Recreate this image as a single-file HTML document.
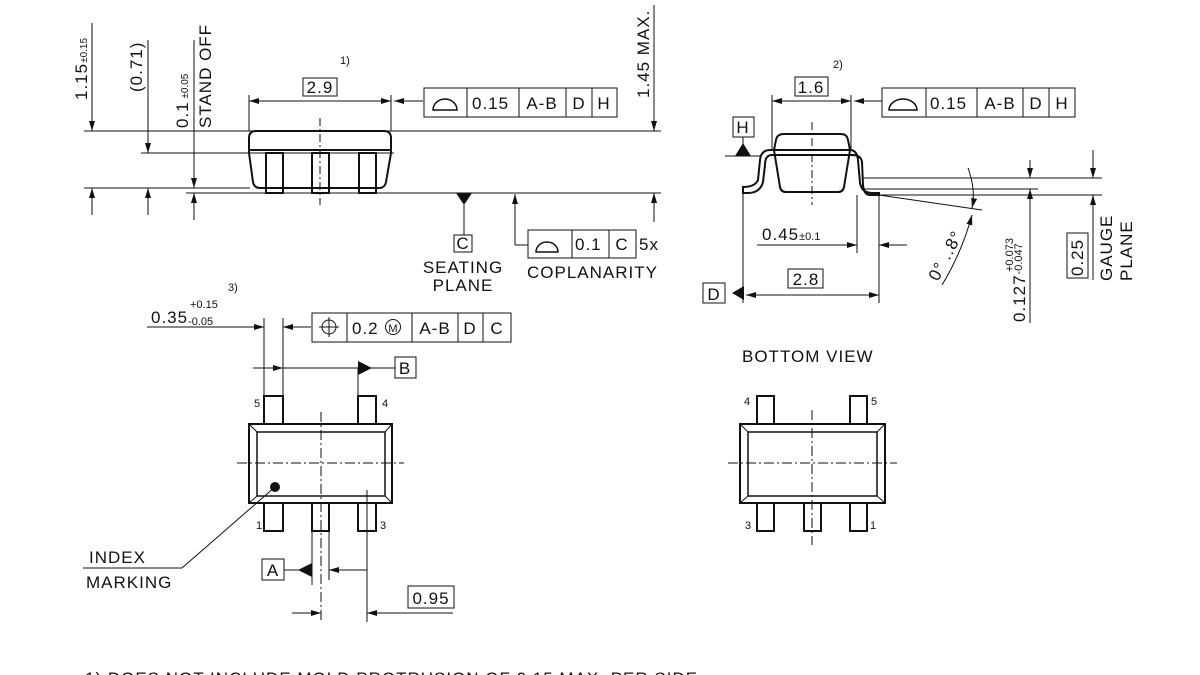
<!DOCTYPE html>
<html><head><meta charset="utf-8"><style>
html,body{margin:0;padding:0;background:#fff;}
svg{display:block;}
text{font-family:"Liberation Sans",sans-serif;fill:#111;}
</style></head><body>
<svg width="1200" height="675" viewBox="0 0 1200 675" xmlns="http://www.w3.org/2000/svg">
<defs>
<marker id="a" viewBox="0 0 10 6" refX="10" refY="3" markerWidth="10" markerHeight="6" orient="auto-start-reverse" markerUnits="userSpaceOnUse"><path d="M0,0L10,3L0,6z" fill="#111"/></marker>
</defs>
<g stroke="#111" stroke-width="1" fill="none">
<line x1="84" y1="131" x2="661" y2="131"/>
<line x1="141" y1="153" x2="394" y2="153"/>
<line x1="84" y1="188" x2="250" y2="188"/>
<line x1="186" y1="193" x2="661" y2="193"/>
<path d="M256,131 L384,131 Q391,131 391,138 L391,153 L386,182 Q385,188 379,188 L260,188 Q254,188 253,182 L249,153 L249,138 Q249,131 256,131Z" stroke-width="2"/>
<line x1="249" y1="150" x2="391" y2="150" stroke-width="2"/>
<g stroke-width="2"><rect x="266" y="153" width="17" height="40"/><rect x="312" y="153" width="17" height="40"/><rect x="359" y="153" width="17" height="40"/>
<line x1="266" y1="188" x2="283" y2="188"/><line x1="312" y1="188" x2="329" y2="188"/><line x1="359" y1="188" x2="376" y2="188"/></g>
<line x1="320" y1="118" x2="320" y2="205" stroke-dasharray="8,3,2,3"/>
<line x1="92" y1="23" x2="92" y2="131" marker-end="url(#a)"/>
<line x1="92" y1="215" x2="92" y2="188" marker-end="url(#a)"/>
<line x1="148" y1="40" x2="148" y2="153" marker-end="url(#a)"/>
<line x1="148" y1="215" x2="148" y2="188" marker-end="url(#a)"/>
<line x1="194" y1="40" x2="194" y2="188" marker-end="url(#a)"/>
<line x1="194" y1="220" x2="194" y2="193" marker-end="url(#a)"/>
<line x1="654" y1="5" x2="654" y2="131" marker-end="url(#a)"/>
<line x1="654" y1="222" x2="654" y2="193" marker-end="url(#a)"/>
<line x1="249" y1="95" x2="249" y2="131"/><line x1="391" y1="95" x2="391" y2="131"/>
<line x1="249" y1="101" x2="391" y2="101" marker-start="url(#a)" marker-end="url(#a)"/>
<line x1="423" y1="101" x2="394" y2="101" marker-end="url(#a)"/>
<rect x="303" y="78" width="34" height="18"/>
<rect x="424" y="88" width="193" height="29"/>
<line x1="467" y1="88" x2="467" y2="117"/><line x1="519" y1="88" x2="519" y2="117"/><line x1="566" y1="88" x2="566" y2="117"/><line x1="592" y1="88" x2="592" y2="117"/>
<path d="M433,110 A12,11 0 0 1 457,110 Z" stroke-width="1.5"/>
<line x1="464" y1="205" x2="464" y2="235"/>
<rect x="454" y="235" width="18" height="17"/>
<line x1="515" y1="245" x2="515" y2="194" marker-end="url(#a)"/>
<line x1="515" y1="245" x2="528" y2="245"/>
<rect x="528" y="230" width="108" height="28"/>
<line x1="572" y1="230" x2="572" y2="258"/><line x1="609" y1="230" x2="609" y2="258"/>
<path d="M536,252 A11,10 0 0 1 558,252 Z" stroke-width="1.5"/>
<path d="M784,134 L841,134 Q847,134 848,140 L850,150 L844,187 Q843,192 838,192 L786,192 Q781,192 780,187 L774,150 L776,140 Q777,134 784,134Z" stroke-width="2"/>
<path d="M743,193 L743,187 Q755,187 758,180 L760,160 Q761,150 770,150 L850,150 Q857,150 858,160 L860,183 Q862,193 872,193 L879,193 L879,195 L870,195 Q864,195 863,185 L862,162 Q861,155 852,155 L772,155 Q765,155 765,165 L763,182 Q760,193 748,193 Z" stroke-width="2"/>
<line x1="812" y1="122" x2="812" y2="205" stroke-dasharray="8,3,2,3"/>
<line x1="863" y1="178" x2="1102" y2="178"/>
<line x1="863" y1="189" x2="1038" y2="189"/>
<line x1="879" y1="195" x2="1102" y2="195"/>
<line x1="772" y1="95" x2="772" y2="150"/><line x1="851" y1="95" x2="851" y2="150"/>
<line x1="772" y1="101" x2="851" y2="101" marker-start="url(#a)" marker-end="url(#a)"/>
<line x1="882" y1="101" x2="854" y2="101" marker-end="url(#a)"/>
<rect x="795" y="77" width="33" height="19"/>
<rect x="882" y="88" width="193" height="29"/>
<line x1="926" y1="88" x2="926" y2="117"/><line x1="977" y1="88" x2="977" y2="117"/><line x1="1023" y1="88" x2="1023" y2="117"/><line x1="1049" y1="88" x2="1049" y2="117"/>
<path d="M889,110 A14,11 0 0 1 917,110 Z" stroke-width="1.5"/>
<rect x="733" y="117" width="21" height="20"/>
<line x1="743" y1="137" x2="743" y2="144"/>
<line x1="725" y1="156" x2="760" y2="156"/>
<rect x="703" y="283" width="22" height="20"/>
<line x1="743" y1="193" x2="743" y2="303"/>
<line x1="879" y1="195" x2="879" y2="303"/>
<line x1="746" y1="295" x2="879" y2="295" marker-start="url(#a)" marker-end="url(#a)"/>
<rect x="788" y="269" width="35" height="19"/>
<line x1="857" y1="195" x2="857" y2="253"/>
<line x1="757" y1="245" x2="857" y2="245" marker-end="url(#a)"/>
<line x1="907" y1="245" x2="879" y2="245" marker-end="url(#a)"/>
<line x1="879" y1="195" x2="982" y2="210"/>
<path d="M968,168 Q976,190 972,208" marker-end="url(#a)"/>
<path d="M942,285 Q962,252 972,215" marker-end="url(#a)"/>
<line x1="1030" y1="160" x2="1030" y2="178" marker-end="url(#a)"/>
<line x1="1030" y1="323" x2="1030" y2="189" marker-end="url(#a)"/>
<line x1="1093" y1="150" x2="1093" y2="178" marker-end="url(#a)"/>
<line x1="1093" y1="280" x2="1093" y2="195" marker-end="url(#a)"/>
<rect x="1067" y="233" width="21" height="45"/>
<rect x="249" y="424" width="143" height="79" stroke-width="2"/>
<rect x="257" y="432" width="128" height="64" stroke-width="1.5"/>
<line x1="249" y1="424" x2="257" y2="432"/><line x1="392" y1="424" x2="385" y2="432"/><line x1="249" y1="503" x2="257" y2="496"/><line x1="392" y1="503" x2="385" y2="496"/>
<g stroke-width="2"><rect x="264" y="396" width="19" height="28"/><rect x="358" y="396" width="18" height="28"/>
<rect x="264" y="503" width="19" height="28"/><rect x="312" y="503" width="17" height="28"/><rect x="358" y="503" width="18" height="28"/></g>
<line x1="237" y1="463" x2="404" y2="463" stroke-dasharray="10,3,2,3"/>
<line x1="321" y1="412" x2="321" y2="622" stroke-dasharray="10,3,2,3"/>
<line x1="367" y1="490" x2="367" y2="622"/>
<line x1="264" y1="318" x2="264" y2="396"/><line x1="283" y1="318" x2="283" y2="396"/>
<line x1="147" y1="327" x2="264" y2="327" marker-end="url(#a)"/>
<line x1="311" y1="327" x2="283" y2="327" marker-end="url(#a)"/>
<rect x="312" y="313" width="199" height="29"/>
<line x1="347" y1="313" x2="347" y2="342"/><line x1="412" y1="313" x2="412" y2="342"/><line x1="458" y1="313" x2="458" y2="342"/><line x1="483" y1="313" x2="483" y2="342"/>
<circle cx="329" cy="327" r="7"/><line x1="319" y1="327" x2="339" y2="327"/><line x1="329" y1="317" x2="329" y2="337"/>
<circle cx="393" cy="327" r="7.5"/>
<line x1="253" y1="368" x2="283" y2="368" marker-end="url(#a)"/>
<line x1="283" y1="368" x2="395" y2="368"/>
<line x1="358" y1="368" x2="358" y2="396"/>
<rect x="395" y="357" width="21" height="21"/>
<line x1="275" y1="487" x2="182" y2="568"/><line x1="182" y1="568" x2="83" y2="568"/>
<rect x="262" y="559" width="22" height="21"/>
<line x1="284" y1="570" x2="312" y2="570"/>
<line x1="312" y1="531" x2="312" y2="585"/><line x1="329" y1="531" x2="329" y2="580"/>
<line x1="367" y1="570" x2="329" y2="570" marker-end="url(#a)"/>
<line x1="292" y1="613" x2="321" y2="613" marker-end="url(#a)"/>
<line x1="453" y1="613" x2="367" y2="613" marker-end="url(#a)"/>
<rect x="408" y="586" width="46" height="22"/>
<rect x="740" y="424" width="145" height="79" stroke-width="2"/>
<rect x="748" y="432" width="129" height="64" stroke-width="1.5"/>
<line x1="740" y1="424" x2="748" y2="432"/><line x1="885" y1="424" x2="877" y2="432"/><line x1="740" y1="503" x2="748" y2="496"/><line x1="885" y1="503" x2="877" y2="496"/>
<g stroke-width="2"><rect x="757" y="396" width="17" height="28"/><rect x="850" y="396" width="17" height="28"/>
<rect x="757" y="503" width="17" height="28"/><rect x="804" y="503" width="17" height="28"/><rect x="850" y="503" width="17" height="28"/></g>
<line x1="728" y1="463" x2="897" y2="463" stroke-dasharray="10,3,2,3"/>
<line x1="812" y1="410" x2="812" y2="545" stroke-dasharray="10,3,2,3"/>
</g>
<g fill="#111">
<path d="M456,193 L472,193 L464,205Z"/>
<path d="M735,156 L751,156 L743,143Z"/>
<path d="M732,293 L744,286 L744,300Z"/>
<path d="M372,368 L358,361 L358,375Z"/>
<path d="M298,570 L312,563 L312,577Z"/>
<circle cx="275" cy="487" r="5"/>
</g>
<g font-size="17" letter-spacing="1">
<text transform="translate(87,100) rotate(-90)">1.15<tspan font-size="10" letter-spacing="0">±0.15</tspan></text>
<text transform="translate(142,92) rotate(-90)">(0.71)</text>
<text transform="translate(188,128) rotate(-90)">0.1<tspan font-size="10" letter-spacing="0"> ±0.05</tspan></text>
<text transform="translate(211,128) rotate(-90)">STAND OFF</text>
<text transform="translate(649,98) rotate(-90)">1.45 MAX.</text>
<text x="340" y="64" font-size="11" letter-spacing="0">1)</text>
<text x="320" y="93" text-anchor="middle">2.9</text>
<text x="472" y="109">0.15</text>
<text x="542" y="109" text-anchor="middle">A-B</text>
<text x="579" y="109" text-anchor="middle">D</text>
<text x="604" y="109" text-anchor="middle">H</text>
<text x="463" y="249" text-anchor="middle">C</text>
<text x="463" y="273" text-anchor="middle">SEATING</text>
<text x="463" y="291" text-anchor="middle">PLANE</text>
<text x="575" y="250">0.1</text>
<text x="622" y="250" text-anchor="middle">C</text>
<text x="639" y="250">5x</text>
<text x="527" y="278">COPLANARITY</text>
<text x="833" y="68" font-size="11" letter-spacing="0">2)</text>
<text x="811" y="93" text-anchor="middle">1.6</text>
<text x="930" y="109">0.15</text>
<text x="1000" y="109" text-anchor="middle">A-B</text>
<text x="1036" y="109" text-anchor="middle">D</text>
<text x="1062" y="109" text-anchor="middle">H</text>
<text x="743" y="133" text-anchor="middle">H</text>
<text x="714" y="300" text-anchor="middle">D</text>
<text x="806" y="285" text-anchor="middle">2.8</text>
<text x="762" y="240">0.45<tspan font-size="11" letter-spacing="0">±0.1</tspan></text>
<text transform="translate(938,282) rotate(-62)">0° ..8°</text>
<text transform="translate(1025,322) rotate(-90)">0.127<tspan font-size="11" dy="-3" letter-spacing="0">-0.047</tspan></text>
<text transform="translate(1013,272) rotate(-90)" font-size="11" letter-spacing="0">+0.073</text>
<text transform="translate(1083,276) rotate(-90)">0.25</text>
<text transform="translate(1112,281) rotate(-90)">GAUGE</text>
<text transform="translate(1132,281) rotate(-90)">PLANE</text>
<text x="228" y="291" font-size="11" letter-spacing="0">3)</text>
<text x="151" y="323">0.35<tspan font-size="11" dy="2" letter-spacing="0">-0.05</tspan></text>
<text x="190" y="308" font-size="11" letter-spacing="0">+0.15</text>
<text x="352" y="334">0.2</text>
<text x="393" y="332" font-size="11" text-anchor="middle" letter-spacing="0">M</text>
<text x="435" y="334" text-anchor="middle">A-B</text>
<text x="470" y="334" text-anchor="middle">D</text>
<text x="497" y="334" text-anchor="middle">C</text>
<text x="405" y="374" text-anchor="middle">B</text>
<text x="273" y="576" text-anchor="middle">A</text>
<text x="431" y="604" text-anchor="middle">0.95</text>
<text x="89" y="563">INDEX</text>
<text x="86" y="588">MARKING</text>
<text x="742" y="362">BOTTOM VIEW</text>
<text x="85" y="684" fill="#444">1) DOES NOT INCLUDE MOLD PROTRUSION OF 0.15 MAX. PER SIDE</text>
</g>
<g font-size="11">
<text x="254" y="407">5</text><text x="382" y="407">4</text>
<text x="256" y="529">1</text><text x="380" y="529">3</text>
<text x="744" y="405">4</text><text x="871" y="405">5</text>
<text x="745" y="529">3</text><text x="870" y="529">1</text>
</g>
</svg>
</body></html>
